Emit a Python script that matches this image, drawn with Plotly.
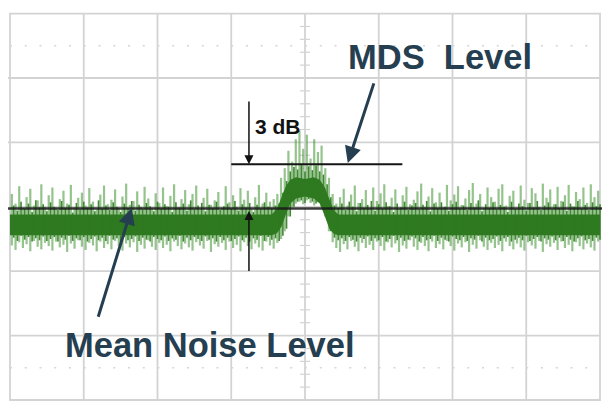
import plotly.graph_objects as go

# ---- data (levels in screen divisions; 8 x 6 division graticule) ----
n_samples = 160
sample_x = [0.025 + 0.05 * i for i in range(n_samples)]

spike_top = [
    3.20, 3.05, 3.32, 2.98, 3.15, 3.28, 3.02, 3.10, 3.35, 3.00, 3.18, 3.30, 2.97, 3.12, 3.25, 3.05, 3.34, 2.99, 3.14, 3.22,
    3.02, 3.29, 3.08, 2.96, 3.19, 3.33, 3.04, 3.11, 3.27, 2.98, 3.16, 3.36, 3.03, 3.09, 3.24, 3.00, 3.31, 3.13, 2.97, 3.21,
    3.06, 3.30, 3.01, 3.17, 3.35, 2.99, 3.12, 3.26, 3.04, 3.20, 3.33, 2.96, 3.14, 3.28, 3.03, 3.10, 3.23, 2.98, 3.32, 3.07,
    3.18, 3.00, 3.29, 3.11, 3.25, 2.97, 3.15, 3.34, 3.05, 3.22,
    3.08, 3.12, 3.20, 3.45, 3.60, 3.87, 3.70, 4.05, 4.18, 3.90, 4.12, 3.75, 4.05, 3.85, 3.95, 3.60, 3.45, 3.20, 3.05, 3.15,
    3.28, 3.02, 3.19, 3.33, 3.06, 3.12, 3.26, 2.98, 3.30, 3.09, 3.21, 3.35, 3.01, 3.14, 3.27, 2.97, 3.18, 3.31, 3.04, 3.11,
    3.24, 3.36, 3.00, 3.16, 3.29, 3.07, 3.22, 2.99, 3.34, 3.10, 3.19, 3.32, 3.03, 3.13, 3.26, 3.37, 3.05, 3.20, 2.98, 3.30,
    3.15, 3.08, 3.28, 3.35, 3.02, 3.17, 3.25, 2.97, 3.33, 3.11, 3.06, 3.29, 3.21, 3.00, 3.36, 3.14, 3.27, 3.04, 3.31, 3.09,
    3.18, 3.34, 3.01, 3.23, 3.12, 3.30, 3.06, 3.35, 3.15, 3.25,
]
spike_bot = [
    2.40, 2.33, 2.45, 2.36, 2.42, 2.31, 2.47, 2.38, 2.34, 2.44, 2.39, 2.32, 2.46, 2.37, 2.41, 2.30, 2.43, 2.35, 2.48, 2.38,
    2.33, 2.44, 2.40, 2.31, 2.46, 2.36, 2.42, 2.34, 2.47, 2.39, 2.32, 2.43, 2.37, 2.45, 2.30, 2.41, 2.35, 2.48, 2.38, 2.33,
    2.44, 2.36, 2.41, 2.31, 2.46, 2.39, 2.34, 2.43, 2.37, 2.32, 2.45, 2.40, 2.35, 2.47, 2.30, 2.42, 2.38, 2.44, 2.33, 2.46,
    2.36, 2.41, 2.31, 2.45, 2.39, 2.34, 2.43, 2.37, 2.32, 2.46,
    2.40, 2.35, 2.44, 2.50, 2.62, 2.85, 3.00, 3.05, 3.08, 3.04, 3.10, 3.06, 3.02, 3.07, 3.00, 2.85, 2.62, 2.45, 2.36, 2.30,
    2.42, 2.34, 2.47, 2.38, 2.31, 2.44, 2.36, 2.41, 2.33, 2.46, 2.39, 2.32, 2.45, 2.37, 2.43, 2.30, 2.40, 2.35, 2.48, 2.38,
    2.33, 2.44, 2.39, 2.31, 2.46, 2.36, 2.42, 2.34, 2.47, 2.39, 2.32, 2.43, 2.37, 2.45, 2.30, 2.41, 2.35, 2.48, 2.38, 2.33,
    2.44, 2.36, 2.41, 2.31, 2.46, 2.39, 2.34, 2.43, 2.37, 2.32, 2.45, 2.40, 2.35, 2.47, 2.30, 2.42, 2.38, 2.44, 2.33, 2.46,
    2.36, 2.41, 2.31, 2.45, 2.39, 2.34, 2.43, 2.37, 2.32, 2.46,
]
# darker, shorter excursions between the samples above
dark_top = [
    3.02, 2.94, 3.08, 2.97, 3.05, 2.92, 3.10, 2.99, 3.04, 2.93, 3.07, 3.00, 2.95, 3.09, 2.98, 3.03, 2.91, 3.06, 2.96, 3.08,
    2.99, 3.04, 2.93, 3.10, 2.97, 3.02, 2.95, 3.07, 3.00, 2.92, 3.05, 2.98, 3.09, 2.94, 3.03, 2.96, 3.06, 3.01, 2.93, 3.08,
    2.97, 3.04, 3.00, 2.92, 3.07, 2.99, 3.05, 2.94, 3.10, 2.96, 3.02, 3.06, 2.93, 3.03, 2.98, 3.08, 2.95, 3.01, 3.05, 2.97,
    3.09, 2.94, 3.04, 2.99, 3.06, 2.92, 3.03, 2.97, 3.07, 3.00,
    2.98, 3.02, 3.05, 3.22, 3.40, 3.55, 3.62, 3.58, 3.66, 3.55, 3.63, 3.57, 3.64, 3.55, 3.50, 3.35, 3.15, 3.02, 2.98, 3.05,
    2.95, 3.08, 3.00, 2.93, 3.06, 2.98, 3.03, 3.09, 2.94, 3.04, 2.97, 3.07, 3.01, 2.92, 3.05, 2.99, 3.08, 2.95, 3.02, 3.06,
    2.96, 3.03, 3.09, 2.93, 3.05, 2.98, 3.07, 3.00, 2.94, 3.04, 3.08, 2.97, 3.02, 2.95, 3.06, 2.99, 3.10, 2.93, 3.04, 2.98,
    3.07, 2.96, 3.03, 3.00, 2.92, 3.08, 2.97, 3.05, 3.01, 2.94, 3.06, 2.99, 3.09, 2.95, 3.02, 3.07, 2.96, 3.04, 2.98, 3.08,
    2.94, 3.05, 3.00, 3.09, 2.97, 3.03, 2.95, 3.07, 3.01, 3.04,
]
dark_bot = [
    2.52, 2.47, 2.55, 2.49, 2.53, 2.46, 2.51, 2.48, 2.54, 2.47, 2.50, 2.53, 2.46, 2.52, 2.49, 2.55, 2.47, 2.51, 2.48, 2.53,
    2.46, 2.50, 2.54, 2.48, 2.52, 2.47, 2.55, 2.49, 2.51, 2.46, 2.53, 2.48, 2.50, 2.54, 2.47, 2.52, 2.49, 2.46, 2.53, 2.50,
    2.48, 2.54, 2.47, 2.51, 2.49, 2.55, 2.46, 2.52, 2.48, 2.53, 2.50, 2.47, 2.54, 2.49, 2.51, 2.46, 2.53, 2.48, 2.52, 2.47,
    2.50, 2.54, 2.48, 2.52, 2.46, 2.51, 2.49, 2.55, 2.47, 2.53,
    2.49, 2.51, 2.47, 2.55, 2.66, 2.85, 3.00, 3.08, 3.10, 3.06, 3.12, 3.08, 3.05, 3.08, 3.00, 2.82, 2.62, 2.52, 2.48, 2.51,
    2.47, 2.53, 2.49, 2.46, 2.52, 2.50, 2.54, 2.47, 2.51, 2.48, 2.53, 2.46, 2.50, 2.55, 2.48, 2.52, 2.47, 2.49, 2.54, 2.51,
    2.46, 2.53, 2.48, 2.50, 2.55, 2.47, 2.52, 2.49, 2.46, 2.54, 2.50, 2.48, 2.53, 2.47, 2.51, 2.49, 2.55, 2.46, 2.52, 2.48,
    2.50, 2.54, 2.47, 2.51, 2.53, 2.46, 2.49, 2.52, 2.48, 2.55, 2.47, 2.50, 2.53, 2.46, 2.51, 2.49, 2.54, 2.48, 2.52, 2.47,
    2.53, 2.49, 2.46, 2.51, 2.54, 2.48, 2.50, 2.47, 2.52, 2.49,
]

band_x = [0.0, 3.55, 3.62, 3.68, 3.74, 3.80, 3.88, 4.00, 4.12, 4.20, 4.27, 4.33, 4.39, 4.45, 8.0]
band_top = [2.88, 2.88, 2.97, 3.15, 3.32, 3.42, 3.46, 3.43, 3.46, 3.42, 3.30, 3.12, 2.95, 2.88, 2.88]
band_bot = [2.56, 2.56, 2.59, 2.69, 2.88, 3.05, 3.13, 3.16, 3.13, 3.05, 2.85, 2.66, 2.58, 2.56, 2.56]

mean_noise_level = 2.975
mds_level = 3.66
mds_x = [3.0, 5.32]
arrow_x = 3.24
arrow_top = 4.66
arrow_bottom = 1.98

label_3db = "3 dB"
label_mds = "MDS\u00a0\u00a0Level"
label_mean = "Mean Noise Level"

# ---- figure ----
DARK_GREEN = "#2f7a20"
LIGHT_GREEN = "rgba(60,145,45,0.55)"
TEXT_COL = "#253e50"
GRID = "#d3d3d3"
FONT = "Liberation Sans, Arial"

def segments(xs, lows, highs, dx=0.0):
    sx, sy = [], []
    for x, lo, hi in zip(xs, lows, highs):
        sx += [x + dx, x + dx, None]
        sy += [lo, hi, None]
    return sx, sy

fig = go.Figure()
lx, ly = segments(sample_x, spike_bot, spike_top)
fig.add_trace(go.Scatter(x=lx, y=ly, mode="lines",
                         line=dict(color=LIGHT_GREEN, width=2.2),
                         hoverinfo="skip", showlegend=False))
fig.add_trace(go.Scatter(x=band_x + band_x[::-1], y=band_top + band_bot[::-1],
                         fill="toself", fillcolor=DARK_GREEN, mode="lines",
                         line=dict(width=0, color=DARK_GREEN),
                         hoverinfo="skip", showlegend=False))
dx_, dy_ = segments(sample_x, dark_bot, dark_top, dx=0.025)
fig.add_trace(go.Scatter(x=dx_, y=dy_, mode="lines",
                         line=dict(color="rgba(47,122,32,0.9)", width=1.6),
                         hoverinfo="skip", showlegend=False))

shapes = []
for gx in range(1, 8):
    shapes.append(dict(type="line", x0=gx, x1=gx, y0=0, y1=6, layer="below",
                       line=dict(color=GRID, width=1.8)))
for gy in range(1, 6):
    shapes.append(dict(type="line", x0=-0.068 if gy >= 4 else 0, x1=8, y0=gy, y1=gy,
                       layer="below", line=dict(color=GRID, width=1.8)))
shapes.append(dict(type="rect", x0=0, x1=8, y0=0, y1=6, layer="below",
                   line=dict(color=GRID, width=1.8)))
for gy in (0.5, 5.5):
    shapes.append(dict(type="line", x0=0, x1=8, y0=gy, y1=gy, layer="below",
                       line=dict(color="#d6d6d6", width=1.5, dash="2px,12.75px")))
for k in range(1, 30):
    if k % 5:
        shapes.append(dict(type="line", x0=3.932, x1=4.068, y0=k * 0.2, y1=k * 0.2,
                           layer="below", line=dict(color=GRID, width=1.2)))
shapes.append(dict(type="line", x0=-0.07, x1=8.05, y0=mean_noise_level, y1=mean_noise_level,
                   line=dict(color="rgba(25,25,25,0.85)", width=2.5)))
shapes.append(dict(type="line", x0=mds_x[0], x1=mds_x[1], y0=mds_level, y1=mds_level,
                   line=dict(color="#151515", width=2)))

annotations = [
    dict(x=arrow_x, y=mds_level, ax=arrow_x, ay=arrow_top, xref="x", yref="y",
         axref="x", ayref="y", text="", showarrow=True, arrowhead=2, arrowsize=1.2,
         arrowwidth=1.5, arrowcolor="#111111", standoff=0),
    dict(x=arrow_x, y=mean_noise_level - 0.04, ax=arrow_x, ay=arrow_bottom, xref="x", yref="y",
         axref="x", ayref="y", text="", showarrow=True, arrowhead=2, arrowsize=1.2,
         arrowwidth=1.5, arrowcolor="#111111", standoff=0),
    dict(x=4.58, y=3.68, ax=4.94, ay=4.94, xref="x", yref="y", axref="x", ayref="y",
         text="", showarrow=True, arrowhead=2, arrowsize=1.1, arrowwidth=3,
         arrowcolor=TEXT_COL, standoff=0),
    dict(x=1.65, y=2.98, ax=1.19, ay=1.27, xref="x", yref="y", axref="x", ayref="y",
         text="", showarrow=True, arrowhead=2, arrowsize=1.1, arrowwidth=3,
         arrowcolor=TEXT_COL, standoff=0),
    dict(x=3.64, y=4.24, xref="x", yref="y", text=label_3db, showarrow=False,
         xanchor="center", yanchor="middle",
         font=dict(family=FONT, size=21, color="#111111", weight="bold")),
    dict(x=5.83, y=5.33, xref="x", yref="y", text=label_mds, showarrow=False,
         xanchor="center", yanchor="middle",
         font=dict(family=FONT, size=34.5, color=TEXT_COL, weight="bold")),
    dict(x=2.71, y=0.854, xref="x", yref="y", text=label_mean, showarrow=False,
         xanchor="center", yanchor="middle",
         font=dict(family=FONT, size=34.5, color=TEXT_COL, weight="bold")),
]

# the page places the figure 8 px in from the top-left corner
fig.update_layout(
    width=602, height=398, margin=dict(l=0, r=0, t=0, b=0),
    paper_bgcolor="white", plot_bgcolor="white",
    xaxis=dict(range=[-0.0271, 8.1356], visible=False, fixedrange=True),
    yaxis=dict(range=[-0.093, 6.087], visible=False, fixedrange=True),
    shapes=shapes, annotations=annotations, showlegend=False,
)

fig.write_html("out.html")
